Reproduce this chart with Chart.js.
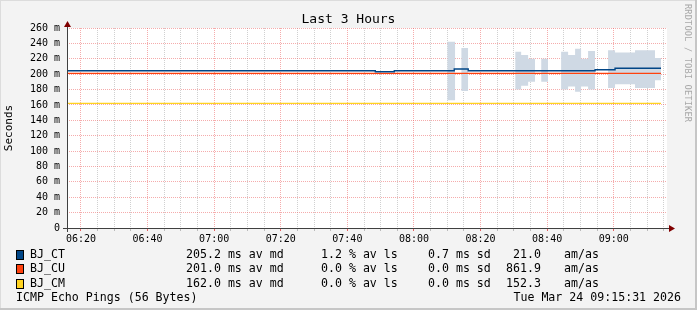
<!DOCTYPE html>
<html>
<head>
<meta charset="utf-8">
<script src="https://cdn.jsdelivr.net/npm/chart.js@4/dist/chart.umd.min.js"></script>
<style>
  body { margin: 0; background: #f3f3f3; }
  #wrap { position: relative; width: 697px; height: 310px; overflow: hidden;
          font-family: 'DejaVu Sans Mono', monospace; color: #000; }
  #chart { position: absolute; left: 0; top: 0; }
  .txt { position: absolute; white-space: pre; font-size: 11.6px; line-height: 14px; height: 14px; }
  .sw { position: absolute; width: 6px; height: 8px; border: 1px solid #000; }
  #title { position: absolute; left: 0; width: 697px; top: 11px; text-align: center;
           font-size: 13px; line-height: 16px; white-space: pre; }
  #mark { position: absolute; left: 683px; top: 4px; writing-mode: vertical-rl;
          font-size: 8.6px; color: #a8a8a8; white-space: pre; letter-spacing: 0.2px; }
</style>
</head>
<body>
<div id="wrap">
  <canvas id="chart" width="697" height="310"></canvas>
  <div id="title">Last 3 Hours</div>
  <div id="mark">RRDTOOL / TOBI OETIKER</div>
</div>
<script>
// axis ticks (minutes after midnight) and their labels
const xTicks = [380, 400, 420, 440, 460, 480, 500, 520, 540];
const xTickLabels = ['06:20', '06:40', '07:00', '07:20', '07:40', '08:00', '08:20', '08:40', '09:00'];

// median lines, each value holds until the next time
const ctTimes  = ['06:16:00', '07:48:24', '07:54:06', '08:12:06', '08:16:18', '08:54:24', '09:00:24', '09:14:12'];
const ctValues = [204.5, 203.2, 204.5, 206.7, 204.5, 205.8, 207.6, 207.6];
const cuTimes  = ['06:16:00', '09:14:12'];
const cuValues = [201.0, 201.0];
const cmTimes  = ['06:16:00', '09:14:12'];
const cmValues = [162.0, 162.0];

// smoke band of BJ_CT (null = gap)
const smokeTimes = ['08:10:00', '08:12:24', '08:12:30', '08:14:12', '08:16:18', '08:16:30',
  '08:30:24', '08:32:12', '08:34:18', '08:36:24', '08:36:30', '08:38:12', '08:40:18', '08:40:30',
  '08:44:12', '08:46:18', '08:48:24', '08:50:12', '08:52:18', '08:54:24', '08:54:30',
  '08:58:18', '09:00:24', '09:06:24', '09:12:24', '09:14:12'];
const smokeHigh = [242, 242, null, 234, 234, null,
  229, 225, 220, 220, null, 220, 220, null,
  229, 225, 233, 220, 230, 230, null,
  231, 228, 231, 221, 221];
const smokeLow = [166, 166, null, 178, 178, null,
  180, 185, 190, 190, null, 190, 190, null,
  180, 184, 177, 184, 180, 180, null,
  182, 187, 182, 192, 192];

// legend
const hosts = ['BJ_CT', 'BJ_CU', 'BJ_CM'];
const hostColors = ['#004586', '#ff420e', '#ffd320'];
const medAvg = ['205.2', '201.0', '162.0'];
const lossAvg = ['1.2', '0.0', '0.0'];
const sdAvg = ['0.7', '0.0', '0.0'];
const amas = ['21.0', '861.9', '152.3'];

const toMin = s => {
  const p = s.split(':');
  return +p[0] * 60 + +p[1] + (+p[2] || 0) / 60;
};
const pts = (times, vals) => times.map((t, i) => ({ x: toMin(t), y: vals[i] }));

const wrap = document.getElementById('wrap');
function addText(str, left, top, extra) {
  const d = document.createElement('div');
  d.className = 'txt';
  d.textContent = str;
  d.style.left = left + 'px';
  d.style.top = top + 'px';
  if (extra) Object.assign(d.style, extra);
  wrap.appendChild(d);
}
hosts.forEach((h, i) => {
  const top = 247 + i * 14.3;
  const sw = document.createElement('div');
  sw.className = 'sw';
  sw.style.left = '16px';
  sw.style.top = (top + 3) + 'px';
  sw.style.background = hostColors[i];
  wrap.appendChild(sw);
  addText(h, 30, top);
  addText(medAvg[i] + ' ms av md', 186, top);
  addText(lossAvg[i] + ' % av ls', 321, top);
  addText(sdAvg[i] + ' ms sd', 428, top);
  addText(amas[i], 480, top, { width: '61px', textAlign: 'right' });
  addText('am/as', 564, top);
});
addText('ICMP Echo Pings (56 Bytes)', 16, 290);
addText('Tue Mar 24 09:15:31 2026', 400, 290, { width: '281px', textAlign: 'right' });

const major = 'rgba(235, 90, 90, 0.5)';
const minor = 'rgba(150, 150, 150, 0.45)';

const frame = {
  id: 'frame',
  beforeDraw(chart) {
    const { ctx, width, height, chartArea: a } = chart;
    ctx.save();
    ctx.fillStyle = '#f3f3f3';
    ctx.fillRect(0, 0, width, height);
    ctx.fillStyle = '#dcdcdc';
    ctx.fillRect(0, 0, width, 1);
    ctx.fillRect(0, 0, 1, height);
    ctx.fillStyle = '#c6c6c6';
    ctx.fillRect(width - 2, 0, 2, height);
    ctx.fillRect(0, height - 2, width, 2);
    ctx.fillStyle = '#ffffff';
    ctx.fillRect(a.left, a.top, a.right - a.left, a.bottom - a.top);
    ctx.restore();
  },
  afterDraw(chart) {
    const { ctx, chartArea: a } = chart;
    const l = Math.round(a.left) + 0.5, b = Math.round(a.bottom) + 0.5;
    ctx.save();
    ctx.strokeStyle = '#404040';
    ctx.lineWidth = 1;
    ctx.beginPath();
    ctx.moveTo(a.left - 4, b); ctx.lineTo(a.right + 3, b);
    ctx.moveTo(l, a.bottom + 4); ctx.lineTo(l, a.top - 2);
    ctx.stroke();
    ctx.fillStyle = '#800000';
    ctx.beginPath();
    ctx.moveTo(a.right + 2, b - 3.5); ctx.lineTo(a.right + 8, b); ctx.lineTo(a.right + 2, b + 3.5);
    ctx.closePath(); ctx.fill();
    ctx.beginPath();
    ctx.moveTo(l - 3.5, a.top - 1); ctx.lineTo(l, a.top - 7); ctx.lineTo(l + 3.5, a.top - 1);
    ctx.closePath(); ctx.fill();
    ctx.restore();
  }
};

const line = (label, data, color) => ({
  label, data, borderColor: color, borderWidth: 1.4, pointRadius: 0,
  stepped: 'before', fill: false, spanGaps: false
});

new Chart(document.getElementById('chart'), {
  type: 'line',
  data: {
    datasets: [
      line('BJ_CT', pts(ctTimes, ctValues), hostColors[0]),
      line('BJ_CU', pts(cuTimes, cuValues), hostColors[1]),
      line('BJ_CM', pts(cmTimes, cmValues), hostColors[2]),
      { label: 'smoke hi', data: pts(smokeTimes, smokeHigh), borderWidth: 0, pointRadius: 0,
        stepped: 'before', spanGaps: false, fill: '+1', backgroundColor: '#cfd9e4' },
      { label: 'smoke lo', data: pts(smokeTimes, smokeLow), borderWidth: 0, pointRadius: 0,
        stepped: 'before', spanGaps: false, fill: false }
    ]
  },
  options: {
    responsive: false,
    animation: false,
    devicePixelRatio: 1,
    layout: { padding: { left: 0, right: 30, top: 28, bottom: 62 } },
    plugins: { legend: { display: false }, tooltip: { enabled: false }, title: { display: false } },
    scales: {
      x: {
        type: 'linear', min: 375.8, max: 556,
        afterFit: s => { s.height = 20; },
        border: { display: false, dash: [1, 1] },
        grid: {
          color: c => (c.tick && xTicks.includes(c.tick.value)) ? major : minor,
          tickColor: c => (c.tick && xTicks.includes(c.tick.value)) ? 'rgba(220,60,60,0.8)' : 'rgba(150,150,150,0.6)',
          tickLength: 3, drawTicks: true
        },
        ticks: {
          stepSize: 5, autoSkip: false, maxRotation: 0, includeBounds: false, padding: 2,
          color: '#000', font: { family: 'DejaVu Sans Mono', size: 10 },
          callback: v => { const i = xTicks.indexOf(v); return i >= 0 ? xTickLabels[i] : ''; }
        }
      },
      y: {
        min: 0, max: 260,
        afterFit: s => { s.width = 67; },
        border: { display: false, dash: [1, 1] },
        grid: { color: c => (c.tick && c.tick.value % 20 === 0) ? major : minor, drawTicks: false },
        title: { display: true, text: 'Seconds', color: '#000', padding: { top: 3, bottom: 0 },
                 font: { family: 'DejaVu Sans Mono', size: 11 } },
        ticks: {
          stepSize: 10, padding: 7, color: '#000', font: { family: 'DejaVu Sans Mono', size: 10 },
          callback: v => v % 20 !== 0 ? '' : (v === 0 ? '0' : v + ' m')
        }
      }
    }
  },
  plugins: [frame]
});
</script>
</body>
</html>
